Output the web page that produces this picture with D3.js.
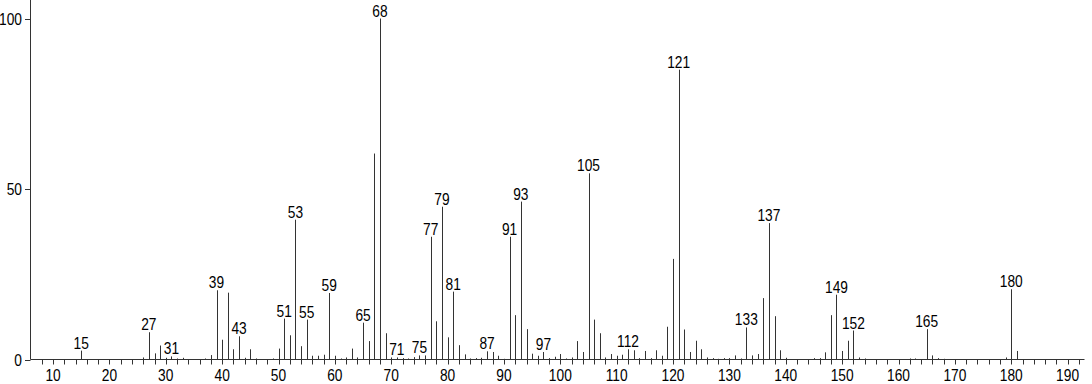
<!DOCTYPE html>
<html>
<head>
<meta charset="utf-8">
<script src="https://cdn.jsdelivr.net/npm/d3@7"></script>
<style>
    body { margin: 0; background: #fff; }
    svg text { font-family: "Liberation Sans", Arial, sans-serif; font-size: 16px; fill: #000; }
</style>
</head>
<body>
<svg id="chart" width="1092" height="384"></svg>
<script>
// m/z values and relative intensities
const mz = [15, 26, 27, 28, 29, 30, 31, 32, 33, 37, 38, 39, 40, 41, 42, 43, 44, 45, 46, 49,
    50, 51, 52, 53, 54, 55, 56, 57, 58, 59, 60, 61, 62, 63, 64, 65, 66, 67, 68, 69,
    70, 71, 72, 73, 74, 75, 76, 77, 78, 79, 80, 81, 82, 83, 84, 85, 86, 87, 88, 89,
    90, 91, 92, 93, 94, 95, 96, 97, 98, 99, 100, 101, 102, 103, 104, 105, 106, 107, 108, 109,
    110, 111, 112, 113, 114, 115, 116, 117, 118, 119, 120, 121, 122, 123, 124, 125, 126, 127, 128, 129,
    130, 131, 132, 133, 134, 135, 136, 137, 138, 139, 140, 145, 146, 147, 148, 149, 150, 151, 152, 153,
    154, 162, 163, 165, 166, 167, 168, 179, 180, 181];
const intensity = [2.6, 0.6, 8.0, 1.8, 4.1, 0.5, 0.9, 0.3, 0.5, 0.3, 1.3, 20.3, 5.8, 19.6, 3.0, 6.8, 0.5, 3.0, 0.3, 0.3,
    3.2, 12.0, 7.1, 41.0, 3.9, 11.7, 1.1, 1.1, 1.4, 19.5, 1.1, 0.3, 0.6, 3.2, 0.6, 10.8, 5.4, 60.4, 100, 7.7,
    0.6, 0.6, 0.4, 0.3, 0.7, 1.2, 1.2, 36.0, 11.2, 44.8, 6.5, 19.9, 4.2, 1.5, 0.3, 0.4, 0.5, 2.4, 2.2, 1.1,
    0.2, 36.0, 13.0, 46.3, 8.9, 1.7, 1.1, 2.2, 0.4, 0.8, 1.6, 0.3, 0.6, 5.4, 2.2, 54.6, 11.7, 7.7, 0.6, 1.6,
    1.1, 1.4, 3.0, 2.7, 0.4, 2.5, 0.4, 2.7, 1.1, 9.6, 29.5, 85.0, 8.8, 2.2, 5.5, 3.0, 0.6, 0.4, 0.2, 0.4,
    0.4, 1.2, 0.3, 9.4, 1.2, 1.6, 18.0, 40.0, 12.7, 2.7, 0.5, 0.4, 0.4, 2.1, 13.0, 19.0, 2.5, 5.5, 8.5, 0.6,
    0.3, 0.3, 0.3, 8.9, 1.2, 0.4, 0.2, 0.6, 20.6, 2.5];
const labeledPeaks = [15, 27, 31, 39, 43, 51, 53, 55, 59, 65, 68, 71, 75, 77, 79, 81, 87, 91, 93, 97,
    105, 112, 121, 133, 137, 149, 152, 165, 180];
const xTicks = d3.range(10, 191, 10);
const yTicks = [0, 50, 100];

const peaks = mz.map((m, i) => ({ mz: m, value: intensity[i] }));

const svg = d3.select('#chart');
const narrow = 0.86; // the original font is a condensed sans

const x = d3.scaleLinear().domain([6, 193]).range([30.5, 1084.5]);
const y = d3.scaleLinear().domain([0, 100]).range([359.5, 18.5]);

const place = (px, py) => `translate(${px},${py}) scale(${narrow},1)`;

// x axis: labelled every 10, minor ticks every 2
const xAxis = svg.append('g').attr('transform', `translate(0,${y(0)})`);
xAxis.append('line')
    .attr('x1', x(6)).attr('x2', x(193))
    .attr('stroke', '#333').attr('stroke-width', 1);
xAxis.selectAll('line.minor')
    .data(d3.range(8, 193, 2))
    .join('line')
    .attr('class', 'minor')
    .attr('x1', d => Math.round(x(d)) + 0.5).attr('x2', d => Math.round(x(d)) + 0.5)
    .attr('y1', 0).attr('y2', 5)
    .attr('stroke', '#333');
xAxis.selectAll('text')
    .data(xTicks)
    .join('text')
    .attr('transform', d => place(x(d), 21))
    .attr('text-anchor', 'middle')
    .text(d => d);

// y axis
const yAxis = svg.append('g');
yAxis.append('line')
    .attr('x1', 30.5).attr('x2', 30.5)
    .attr('y1', 0).attr('y2', y(0))
    .attr('stroke', '#333');
yAxis.selectAll('line.tick')
    .data(yTicks)
    .join('line')
    .attr('class', 'tick')
    .attr('x1', 25).attr('x2', 30.5)
    .attr('y1', d => Math.round(y(d)) + 0.5).attr('y2', d => Math.round(y(d)) + 0.5)
    .attr('stroke', '#333');
yAxis.selectAll('text')
    .data(yTicks)
    .join('text')
    .attr('transform', d => place(22, y(d) + 6))
    .attr('text-anchor', 'end')
    .text(d => d);

// peaks
svg.append('g').selectAll('line')
    .data(peaks)
    .join('line')
    .attr('x1', d => Math.round(x(d.mz)) + 0.5).attr('x2', d => Math.round(x(d.mz)) + 0.5)
    .attr('y1', y(0)).attr('y2', d => y(d.value))
    .attr('stroke', '#333')
    .attr('stroke-width', 1);

// peak labels
svg.append('g').selectAll('text')
    .data(peaks.filter(d => labeledPeaks.includes(d.mz)))
    .join('text')
    .attr('transform', d => place(x(d.mz), y(d.value) - 2))
    .attr('text-anchor', 'middle')
    .text(d => d.mz);
</script>
</body>
</html>
